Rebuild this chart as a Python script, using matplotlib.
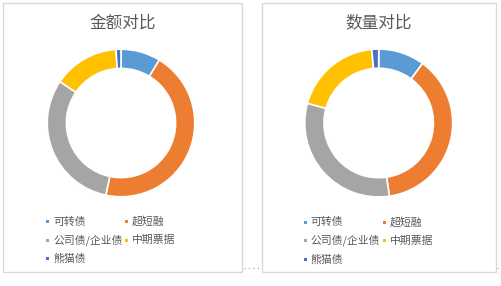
import matplotlib.pyplot as plt
from matplotlib.patches import Rectangle

plt.rcParams['font.family'] = ['Noto Sans CJK SC', 'DejaVu Sans']

categories = ["可转债", "超短融", "公司债/企业债", "中期票据", "熊猫债"]
amount_share = [8.7, 44.6, 31.2, 14.4, 1.1]
count_share = [10.1, 37.6, 31.6, 19.2, 1.5]
titles = ["金额对比", "数量对比"]
colors = ["#5B9BD5", "#ED7D31", "#A5A5A5", "#FFC000", "#4472C4"]

W, H = 502, 286
fig = plt.figure(figsize=(W / 100, H / 100), dpi=100)
text_color = "#595959"


def px(x, y):
    # pixel coords (top-left origin) -> figure fraction
    return x / W, 1 - y / H


panels = [
    # frame (x0, y0, x1, y1), pie centre, radius, legend origin
    dict(frame=(3, 3, 242, 272), center=(121, 123), r=74.5, leg=(48, 221.5), col2=79),
    dict(frame=(262, 3, 496, 272), center=(378.7, 123), r=74.7, leg=(305.5, 222), col2=79),
]

for p, title, values in zip(panels, titles, [amount_share, count_share]):
    x0, y0, x1, y1 = p["frame"]
    fig.patches.append(Rectangle(px(x0, y1), (x1 - x0) / W, (y1 - y0) / H,
                                 transform=fig.transFigure, fill=False,
                                 edgecolor="#d9d9d9", linewidth=1))

    cx, cy = p["center"]
    r = p["r"]
    ax = fig.add_axes([(cx - r) / W, (H - cy - r) / H, 2 * r / W, 2 * r / H])
    ax.pie(values, colors=colors, startangle=90, counterclock=False,
           radius=1, wedgeprops=dict(width=0.26, edgecolor="white", linewidth=1.2))
    ax.set_xlim(-1.01, 1.01)
    ax.set_ylim(-1.01, 1.01)
    ax.set_aspect("equal")
    ax.axis("off")

    tx, ty = px((x0 + x1) / 2, 23)
    fig.text(tx, ty, title, ha="center", va="center", fontsize=12, color=text_color)

    lx, ly = p["leg"]
    for i, (name, c) in enumerate(zip(categories, colors)):
        row, col = divmod(i, 2)
        mx = lx + col * p["col2"]
        my = ly + row * 18.7
        fig.patches.append(Rectangle(px(mx - 1.5, my + 1.5), 3 / W, 3 / H,
                                     transform=fig.transFigure, facecolor=c,
                                     edgecolor="none"))
        fx, fy = px(mx + 5, my)
        fig.text(fx, fy, name, ha="left", va="center", fontsize=7.8, color=text_color)

# dotted selection marks between/after the panels
for xs in [(244, 260), (497, 502)]:
    a, _ = px(xs[0], 0)
    b, _ = px(xs[1], 0)
    _, yy = px(0, 268)
    fig.add_artist(plt.Line2D([a, b], [yy, yy], transform=fig.transFigure,
                              color="#9a9a9a", linewidth=0.8, linestyle=(0, (1, 3))))

fig.savefig("out.png", dpi=100, facecolor="white")
